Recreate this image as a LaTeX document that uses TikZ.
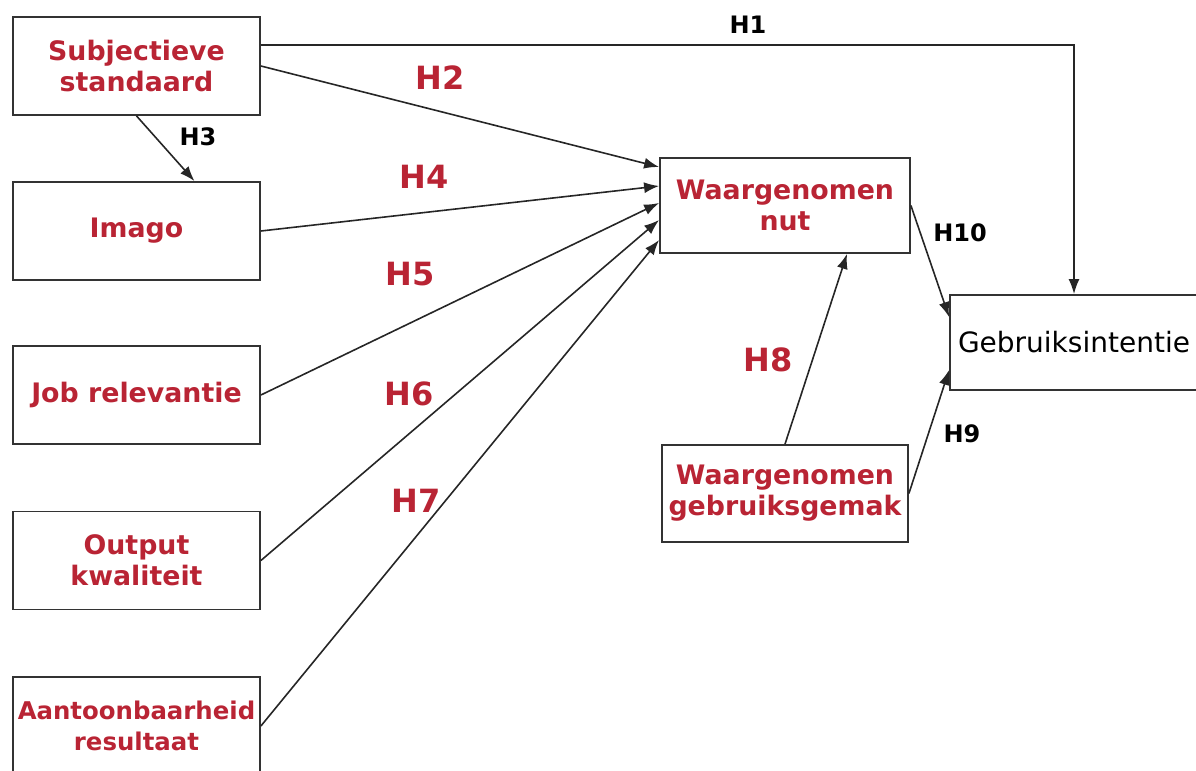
\documentclass[tikz,border=0pt]{standalone}
\usepackage{fontspec}
\setmainfont{DejaVu Sans}
\usetikzlibrary{arrows.meta,positioning}
\definecolor{modelred}{RGB}{185,36,52}

\tikzset{
  box/.style={draw=black!80, line width=0.9pt, rectangle, align=center, inner sep=0pt,
    text=modelred, font=\bfseries\fontsize{13.4}{15.5}\selectfont,
    minimum width=123.5pt, minimum height=49pt},
  arr/.style={draw=black!85, line width=0.8pt, -{Latex[length=7.5pt,width=5.5pt]}},
  hred/.style={text=modelred, font=\bfseries\fontsize{16}{18}\selectfont},
  hblack/.style={text=black, font=\bfseries\fontsize{12}{14}\selectfont},
}

\begin{document}
\begin{tikzpicture}[x=0.5pt,y=-0.5pt]
        % 1 unit = 1 pixel of the 1196x771 sheet
        \useasboundingbox (0,0) rectangle (1196,771);

        \node[box] (subj) at (136.5,66) {Subjectieve\\standaard};
        \node[box] (imago) at (136.5,231) {Imago};
        \node[box] (job) at (136.5,395) {Job relevantie};
        \node[box] (output) at (136.5,560.5) {Output\\kwaliteit};
        \node[box, font=\bfseries\fontsize{12.2}{15.5}\selectfont] (aant) at (136.5,726) {Aantoonbaarheid\\resultaat};

        \node[box, minimum width=125pt, minimum height=47.5pt] (nut) at (785,205.5) {Waargenomen\\nut};
        \node[box, minimum width=123pt, minimum height=48.5pt] (gemak) at (785,493.5) {Waargenomen\\gebruiksgemak};
        \node[box, minimum width=124pt, minimum height=47.5pt, text=black,
              font=\fontsize{14}{16}\selectfont] (intentie) at (1074,342.5) {Gebruiksintentie};

        % pijlen naar waargenomen nut
        \draw[arr] (subj.east) -- ([yshift=19.25pt]nut.west);
        \draw[arr] (imago.east) -- ([yshift=9.75pt]nut.west);
        \draw[arr] (job.east) -- ([yshift=1.25pt]nut.west);
        \draw[arr] (output.east) -- ([yshift=-7.25pt]nut.west);
        \draw[arr] (aant.east) -- ([yshift=-17.25pt]nut.west);

        \draw[arr] ([yshift=10.5pt]subj.east) -| (intentie.north);
        \draw[arr] (subj.south) -- ([xshift=29pt]imago.north);
        \draw[arr] (gemak.north) -- ([xshift=31pt]nut.south);
        \draw[arr] (nut.east) -- ([yshift=12.75pt]intentie.west);
        \draw[arr] (gemak.east) -- ([yshift=-13.75pt]intentie.west);

        \node[hblack] (h1) at (748,25) {H1};
        \node[hred] (h2) at (440,78) {H2};
        \node[hblack] (h3) at (198,137) {H3};
        \node[hred] (h4) at (424,177) {H4};
        \node[hred] (h5) at (410,274) {H5};
        \node[hred] (h6) at (409,394) {H6};
        \node[hred] (h7) at (416,501) {H7};
        \node[hred] (h8) at (768,360) {H8};
        \node[hblack] (h9) at (962,434) {H9};
        \node[hblack] (h10) at (960,233) {H10};
    \end{tikzpicture}
\end{document}
